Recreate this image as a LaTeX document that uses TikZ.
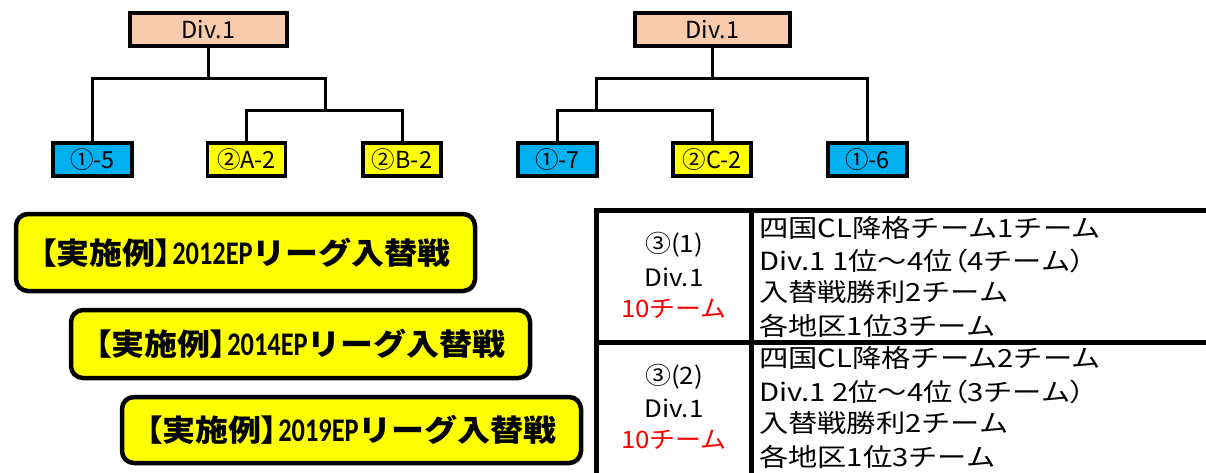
\documentclass[tikz,border=0pt]{standalone}
\usepackage{fontspec}
\setmainfont{Noto Sans CJK JP}
\newfontfamily\calf{Carlito}[FakeStretch=0.8]
\newfontfamily\exf{Noto Sans CJK JP}[FakeStretch=1.1]
\newfontfamily\exbr{Noto Sans CJK JP}[FakeStretch=1.1,RawFeature=+palt]
\newfontfamily\tabf{Noto Sans CJK JP}[FakeStretch=1.17]
\newfontfamily\tabp{Noto Sans CJK JP}[FakeStretch=1.17,RawFeature=+palt]
\newfontfamily\lcf{Noto Sans CJK JP}[FakeStretch=1.08]
\definecolor{peach}{HTML}{F8CBAD}
\definecolor{skyb}{HTML}{00B0F0}
\definecolor{yel}{HTML}{FFFF00}
\definecolor{redt}{HTML}{FF0000}
\newcommand{\extitle}[1]{{\exbr\bfseries 【}{\exf\bfseries 実施例}{\exbr\bfseries 】}{\calf\bfseries\fontsize{33}{33}\selectfont #1}{\exf\bfseries リーグ入替戦}}
\tikzset{
  tree/.style={line width=3pt, line cap=rect},
  tbox/.style={draw, line width=3.5pt, inner sep=0pt, minimum height=33pt, font=\fontsize{23.5}{23.5}\selectfont},
  divbox/.style={tbox, fill=peach, minimum width=157pt},
  bluebox/.style={tbox, fill=skyb, minimum width=79pt},
  yelbox/.style={tbox, fill=yel, minimum width=78pt},
  exbox/.style={draw, line width=4.5pt, rounded corners=12pt, fill=yel, minimum width=459pt, inner sep=0pt, font=\fontsize{30}{30}\selectfont},
  tline/.style={line width=5pt},
  ltxt/.style={font=\lcf\fontsize{24}{24}\selectfont, inner sep=0pt},
  rtxt/.style={font=\tabf\fontsize{25}{25}\selectfont, inner sep=0pt, anchor=west},
}
\begin{document}
\begin{tikzpicture}[x=1pt,y=-1pt]
\useasboundingbox (0,0) rectangle (1206,472);
\begin{scope}
\clip (0,0) rectangle (1206,472);
% ---- left tree
\node[divbox] (L0) at (208.5,29.5) {Div.1};
\node[bluebox] (L1) at (92.5,159.5) {①-5};
\node[yelbox] (L2) at (246.5,159.5) {②A-2};
\node[yelbox] (L3) at (402,159.5) {②B-2};
\coordinate (La) at (325,78);
\coordinate (Lb) at (325,110);
\draw[tree] (L0.south) -- (L0.south |- La);
\draw[tree] (L1.north) |- (La) -- (Lb);
\draw[tree] (L2.north) |- (Lb) -| (L3.north);
% ---- right tree
\node[divbox, minimum width=155pt] (R0) at (712.5,29.5) {Div.1};
\node[bluebox] (R1) at (557.5,159.5) {①-7};
\node[yelbox] (R2) at (712,159.5) {②C-2};
\node[bluebox] (R3) at (867.5,159.5) {①-6};
\coordinate (Ra) at (596,78);
\coordinate (Rb) at (596,110);
\draw[tree] (R0.south) -- (R0.south |- Ra);
\draw[tree] (R1.north) |- (Rb) -| (R2.north);
\draw[tree] (Rb) -- (Ra) -| (R3.north);
% ---- example boxes
\node[exbox, minimum height=77pt] (E1) at (245.5,252.5) {\extitle{2012EP}};
\node[exbox, minimum height=68pt] (E2) at (300.5,344) {\extitle{2014EP}};
\node[exbox, minimum height=66pt] (E3) at (351.5,430) {\extitle{2019EP}};
% ---- table
\coordinate (T0) at (596.5,210.5);
\coordinate (T1) at (1215,210.5);
\coordinate (T2) at (596.5,480);
\coordinate (TV) at (751.5,210.5);
\coordinate (TVb) at (751.5,480);
\coordinate (TH) at (596.5,342.5);
\coordinate (THr) at (1215,342.5);
\draw[tline] (T2) -- (T0) -- (T1);
\draw[tline] (TV) -- (TVb);
\draw[tline] (TH) -- (THr);
% left column
\node[ltxt] (a1) at (674,245) {③(1)};
\node[ltxt] (a2) at (674,277) {Div.1};
\node[ltxt, text=redt] (a3) at (674,309) {10チーム};
\node[ltxt] (b1) at (674,377) {③(2)};
\node[ltxt] (b2) at (674,408) {Div.1};
\node[ltxt, text=redt] (b3) at (674,440) {10チーム};
% right column
\node[rtxt] (c1) at (759,228) {四国CL降格チーム1チーム};
\node[rtxt] (c2) at (759,261) {Div.1 1位～4位{\tabp （}4チーム{\tabp ）}};
\node[rtxt] (c3) at (759,292) {入替戦勝利2チーム};
\node[rtxt] (c4) at (759,326) {各地区1位3チーム};
\node[rtxt] (d1) at (759,358) {四国CL降格チーム2チーム};
\node[rtxt] (d2) at (759,392) {Div.1 2位～4位{\tabp （}3チーム{\tabp ）}};
\node[rtxt] (d3) at (759,423) {入替戦勝利2チーム};
\node[rtxt] (d4) at (759,457) {各地区1位3チーム};
\end{scope}
\end{tikzpicture}
\end{document}
